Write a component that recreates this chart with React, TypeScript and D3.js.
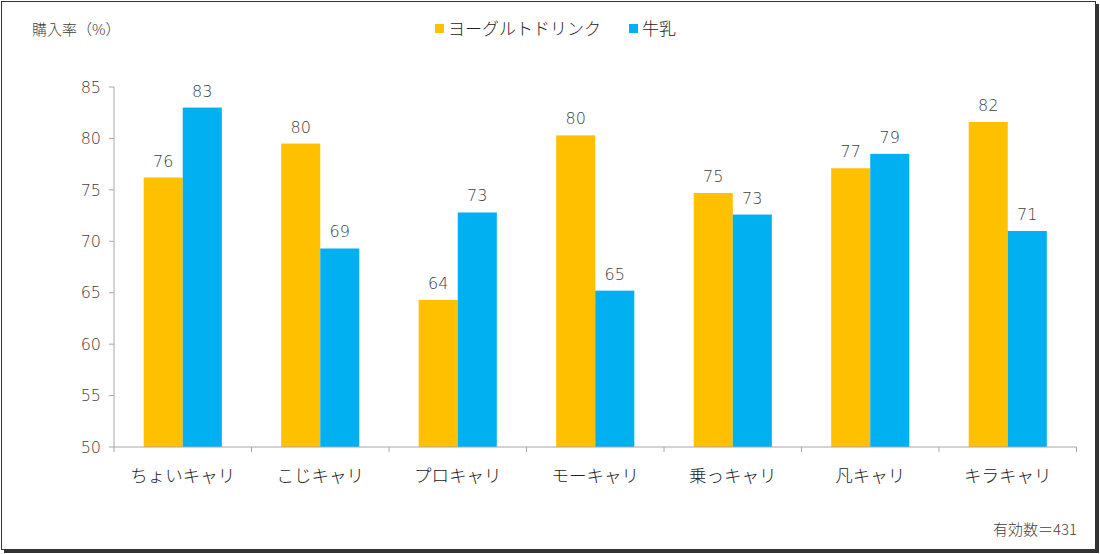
import React from "react";
import * as d3 from "d3";

const categories = ["ちょいキャリ", "こじキャリ", "プロキャリ", "モーキャリ", "乗っキャリ", "凡キャリ", "キラキャリ"];
const seriesNames = ["ヨーグルトドリンク", "牛乳"];
const yogurt = [76.2, 79.5, 64.3, 80.3, 74.7, 77.1, 81.6];
const milk = [83.0, 69.3, 72.8, 65.2, 72.6, 78.5, 71.0];
const yTicks = [50, 55, 60, 65, 70, 75, 80, 85];
const colors = ["#FFC000", "#00B0F0"];

const W = 1100;
const H = 554;
const FONT = "'Noto Sans CJK JP', 'Noto Sans', sans-serif";
const NUMFONT = "'DejaVu Sans', 'Noto Sans', sans-serif";
const TEXT = "#404040";

export default function App() {
  const x0 = d3.scaleBand<string>().domain(categories).range([114, 1076.5]).paddingInner(0).paddingOuter(0);
  const x1 = d3.scaleBand<string>().domain(seriesNames).range([0, x0.bandwidth()]).paddingInner(0).paddingOuter(0.76);
  const y = d3.scaleLinear().domain([50, 85]).range([447, 87]);
  const fmt = d3.format(".0f");
  const series = [yogurt, milk];

  return (
    <div>
      <style>{"body{margin:0}"}</style>
      <svg width={W} height={H} style={{ display: "block", fontFamily: FONT }}>
        <rect x={0} y={0} width={W} height={H} fill="#fff" />
        {/* shadow */}
        <rect x={4} y={549} width={1095} height={4} fill="#333" />
        <rect x={1095} y={4} width={4} height={549} fill="#333" />
        <rect x={1.5} y={1.5} width={1094} height={548} fill="#fff" stroke="#333" strokeWidth={1} />

        <text x={32} y={35} fontSize={15} fill={TEXT} fontWeight={300}>購入率（%）</text>

        {/* legend */}
        <rect x={435} y={24} width={9} height={9} fill={colors[0]} />
        <text x={448} y={35} fontSize={17} fill="#222" fontWeight={300}>{seriesNames[0]}</text>
        <rect x={629} y={24} width={9} height={9} fill={colors[1]} />
        <text x={642} y={35} fontSize={17} fill="#222" fontWeight={300}>{seriesNames[1]}</text>

        {/* y axis */}
        <line x1={114} x2={114} y1={y(85)} y2={y(50)} stroke="#a6a6a6" />
        {yTicks.map((t) => (
          <g key={t}>
            <line x1={109} x2={114} y1={y(t)} y2={y(t)} stroke="#a6a6a6" />
            <text x={101} y={y(t)} dy="0.36em" textAnchor="end" fontSize={16} fill={TEXT} fontFamily={NUMFONT} fontWeight={200}>{t}</text>
          </g>
        ))}

        {/* bars */}
        {categories.map((c, i) => (
          <g key={c} transform={`translate(${x0(c)},0)`}>
            {seriesNames.map((s, j) => {
              const v = series[j][i];
              const bx = x1(s)!;
              return (
                <g key={s}>
                  <rect x={bx} y={y(v)} width={x1.bandwidth()} height={y(50) - y(v)} fill={colors[j]} />
                  <text x={bx + x1.bandwidth() / 2} y={y(v) - 11} textAnchor="middle" fontSize={16} fill={TEXT} fontFamily={NUMFONT} fontWeight={200}>{fmt(v)}</text>
                </g>
              );
            })}
          </g>
        ))}

        {/* x axis */}
        <line x1={114} x2={1076.5} y1={y(50)} y2={y(50)} stroke="#a6a6a6" />
        {d3.range(categories.length + 1).map((k) => {
          const xx = 114 + k * x0.bandwidth();
          return <line key={k} x1={xx} x2={xx} y1={y(50)} y2={y(50) + 5} stroke="#a6a6a6" />;
        })}
        {categories.map((c) => (
          <text key={c} x={x0(c)! + x0.bandwidth() / 2} y={482} textAnchor="middle" fontSize={17.5} fill="#222" fontWeight={300}>{c}</text>
        ))}

        <text x={1077} y={535} textAnchor="end" fontSize={15} fill={TEXT} fontWeight={300}>有効数＝431</text>
      </svg>
    </div>
  );
}
